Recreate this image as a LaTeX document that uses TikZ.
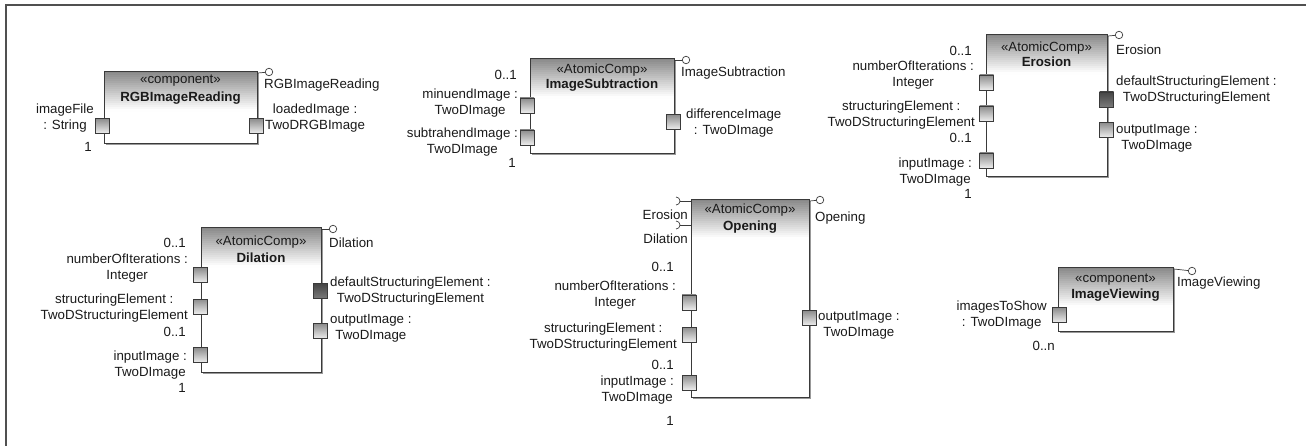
\documentclass[tikz,border=0pt]{standalone}
\usepackage{fontspec}
\setmainfont{Liberation Sans}
\usetikzlibrary{shadows}
\definecolor{bord}{HTML}{3A3A3A}
\definecolor{hdr}{HTML}{888888}
\definecolor{ptop}{HTML}{8C8C8C}
\definecolor{pbot}{HTML}{EEEEEE}
\definecolor{dtop}{HTML}{454545}
\definecolor{dbot}{HTML}{7A7A7A}
\definecolor{txt}{HTML}{1A1A1A}
\definecolor{frm}{HTML}{505050}
\begin{document}
\begin{tikzpicture}[x=1pt,y=-1pt,
  lbl/.style={inner sep=0pt, align=center, text=txt, font=\fontsize{13.3}{16}\selectfont},
  ttl/.style={inner sep=0pt, text=txt, font=\fontsize{13.3}{16}\selectfont\bfseries},
  comp/.style={draw=bord, line width=0.9pt, fill=white, inner sep=0pt, anchor=north west,
    drop shadow={shadow xshift=1.5pt, shadow yshift=-1.5pt, fill=black!40, opacity=1},
    path picture={\foreach \k in {0,...,19}{\pgfmathtruncatemacro\pc{100-5.2*\k}
      \fill[hdr!\pc!white] ([yshift={-\k*2pt}]path picture bounding box.north west) rectangle ([yshift={-\k*2pt-2.3pt}]path picture bounding box.north east);}}},
  port/.style={draw=bord, line width=0.7pt, minimum width=14pt, minimum height=15pt, inner sep=0pt, top color=ptop, bottom color=pbot},
  dport/.style={port, top color=dtop, bottom color=dbot},
  ball/.style={circle, draw=bord, fill=white, minimum size=7.5pt, inner sep=0pt, line width=0.7pt},
  conn/.style={draw=bord, line width=0.7pt},
  frame/.style={draw=frm, line width=1.3pt}]
\useasboundingbox (0,0) rectangle (1306,446);
\draw[frame] (6,446) -- (6,5) -- (1306,5);

% ---------- RGBImageReading
\node[comp, minimum width=153pt, minimum height=72pt] (rgb) at (104,71) {};
\node[lbl] (rgbst) at (180.5,81) {«component»};
\node[ttl] (rgbnm) at (180.5,98) {RGBImageReading};
\node[port] (rgbin) at (102,126) {};
\node[port] (rgbout) at (256,126) {};
\node[ball] (rgbball) at (269,72) {};
\draw[conn] ([yshift=-2pt]rgb.north east) -- (rgbball);
\node[lbl, anchor=west] (rgbif) at (264,85) {RGBImageReading};
\node[lbl, anchor=east] (rgbinl) at (94,118) {imageFile\\: String};
\node[lbl, anchor=east] (rgbinm) at (92,147) {1};
\node[lbl, anchor=west] (rgboutl) at (265,118) {loadedImage :\\TwoDRGBImage};

% ---------- ImageSubtraction
\node[comp, minimum width=144pt, minimum height=95pt] (sub) at (530,58) {};
\node[lbl] (subst) at (602,70) {«AtomicComp»};
\node[ttl] (subnm) at (602,85) {ImageSubtraction};
\node[port] (subin1) at (527,105.5) {};
\node[port] (subin2) at (527,137.5) {};
\node[port] (subout) at (673,122) {};
\node[ball] (subball) at (686,60) {};
\draw[conn] ([yshift=-2pt]sub.north east) -- (subball);
\node[lbl, anchor=west] (subif) at (681,73) {ImageSubtraction};
\node[lbl, anchor=east] (subm1) at (517,75) {0..1};
\node[lbl, anchor=east] (subin1l) at (518,103) {minuendImage :\\TwoDImage};
\node[lbl, anchor=east] (subin2l) at (518,142) {subtrahendImage :\\TwoDImage};
\node[lbl, anchor=east] (subm2) at (516,163) {1};
\node[lbl, anchor=west] (suboutl) at (686,123) {differenceImage\\: TwoDImage};

% ---------- Erosion
\node[comp, minimum width=121pt, minimum height=142pt] (ero) at (986,34) {};
\node[lbl] (erost) at (1046.5,48) {«AtomicComp»};
\node[ttl] (eronm) at (1046.5,62) {Erosion};
\node[port] (eroin1) at (986.5,82.5) {};
\node[port] (eroin2) at (986.5,113.5) {};
\node[port] (eroin3) at (986.5,160.5) {};
\node[dport] (erodef) at (1106.5,99.5) {};
\node[port] (eroout) at (1106.5,130) {};
\node[ball] (eroball) at (1119,35) {};
\draw[conn] ([yshift=-2pt]ero.north east) -- (eroball);
\node[lbl, anchor=west] (eroif) at (1116,50) {Erosion};
\node[lbl, anchor=east] (erom1) at (972,51) {0..1};
\node[lbl, anchor=east] (eroin1l) at (974,75) {numberOfIterations :\\Integer};
\node[lbl, anchor=east] (eroin2l) at (975,115) {structuringElement :\\TwoDStructuringElement};
\node[lbl, anchor=east] (erom2) at (972,138) {0..1};
\node[lbl, anchor=east] (eroin3l) at (972,172.5) {inputImage :\\TwoDImage};
\node[lbl, anchor=east] (erom3) at (972,194) {1};
\node[lbl, anchor=west] (erodefl) at (1116,90) {defaultStructuringElement :\\TwoDStructuringElement};
\node[lbl, anchor=west] (erooutl) at (1116,138) {outputImage :\\TwoDImage};

% ---------- Dilation
\node[comp, minimum width=120pt, minimum height=145pt] (dil) at (201,227) {};
\node[lbl] (dilst) at (261,242) {«AtomicComp»};
\node[ttl] (dilnm) at (261,258) {Dilation};
\node[port] (dilin1) at (200.5,275) {};
\node[port] (dilin2) at (200.5,306.5) {};
\node[port] (dilin3) at (200.5,355) {};
\node[dport] (dildef) at (320.5,291) {};
\node[port] (dilout) at (320.5,331) {};
\node[ball] (dilball) at (333,229) {};
\draw[conn] ([yshift=-2pt]dil.north east) -- (dilball);
\node[lbl, anchor=west] (dilif) at (329,243) {Dilation};
\node[lbl, anchor=east] (dilm1) at (186,243) {0..1};
\node[lbl, anchor=east] (dilin1l) at (188,268) {numberOfIterations :\\Integer};
\node[lbl, anchor=east] (dilin2l) at (188,308) {structuringElement :\\TwoDStructuringElement};
\node[lbl, anchor=east] (dilm2) at (186,332) {0..1};
\node[lbl, anchor=east] (dilin3l) at (187,365) {inputImage :\\TwoDImage};
\node[lbl, anchor=east] (dilm3) at (186,388) {1};
\node[lbl, anchor=west] (dildefl) at (330,291) {defaultStructuringElement :\\TwoDStructuringElement};
\node[lbl, anchor=west] (diloutl) at (330,328) {outputImage :\\TwoDImage};

% ---------- Opening
\node[comp, minimum width=118pt, minimum height=198pt] (opn) at (691,199) {};
\node[lbl] (opnst) at (750,210) {«AtomicComp»};
\node[ttl] (opnnm) at (750,227) {Opening};
\node[port] (opnin1) at (689,302.5) {};
\node[port] (opnin2) at (689,334.5) {};
\node[port] (opnin3) at (689,382.5) {};
\node[port] (opnout) at (809,318) {};
\node[ball] (opnball) at (820,200) {};
\draw[conn] ([yshift=-2pt]opn.north east) -- (opnball);
\node[lbl, anchor=west] (opnif) at (815,218) {Opening};
\coordinate (sockE) at (680,201);
\coordinate (sockD) at (680,225);
\draw[conn] ([yshift=-2pt]opn.north west) -- (sockE);
\draw[conn] ([yshift=-26pt]opn.north west) -- (sockD);
\draw[conn] ([shift={(-4pt,-4pt)}]sockE) arc[start angle=-90, end angle=90, radius=4pt];
\draw[conn] ([shift={(-4pt,-4pt)}]sockD) arc[start angle=-90, end angle=90, radius=4pt];
\node[lbl, anchor=east] (opnreqE) at (688,215) {Erosion};
\node[lbl, anchor=east] (opnreqD) at (688,239) {Dilation};
\node[lbl, anchor=east] (opnm1) at (674,267) {0..1};
\node[lbl, anchor=east] (opnin1l) at (676,295) {numberOfIterations :\\Integer};
\node[lbl, anchor=east] (opnin2l) at (677,337) {structuringElement :\\TwoDStructuringElement};
\node[lbl, anchor=east] (opnm2) at (674,365) {0..1};
\node[lbl, anchor=east] (opnin3l) at (674,390) {inputImage :\\TwoDImage};
\node[lbl, anchor=east] (opnm3) at (674,421) {1};
\node[lbl, anchor=west] (opnoutl) at (818,325) {outputImage :\\TwoDImage};

% ---------- ImageViewing
\node[comp, minimum width=115pt, minimum height=64pt] (view) at (1058,267) {};
\node[lbl] (viewst) at (1115.5,280) {«component»};
\node[ttl] (viewnm) at (1115.5,295) {ImageViewing};
\node[port] (viewin) at (1059,315) {};
\node[ball] (viewball) at (1192,271) {};
\draw[conn] ([yshift=-2pt]view.north east) -- (viewball);
\node[lbl, anchor=west] (viewif) at (1177,283) {ImageViewing};
\node[lbl, anchor=east] (viewinl) at (1047,315.5) {imagesToShow\\: TwoDImage};
\node[lbl, anchor=east] (viewm) at (1055,346) {0..n};
\end{tikzpicture}
\end{document}
